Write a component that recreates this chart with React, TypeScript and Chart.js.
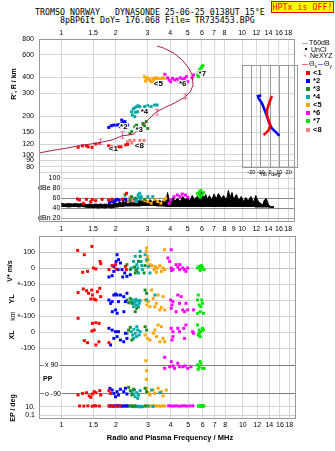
import React, { useEffect, useRef } from 'react';
import { Chart, registerables } from 'chart.js';

Chart.register(...registerables);

type Pt = [number, number];

// ---------- axes / ticks ----------
const FREQ_MIN = 0.753;
const FREQ_MAX = 19.63;
const topFreqTicks = [1, 1.5, 2, 3, 4, 5, 6, 7, 8, 10, 12, 14, 16, 18];
const midFreqTicks = [1, 1.5, 2, 3, 4, 5, 6, 7, 8, 9, 10, 12, 14, 16, 18];
const lowFreqTicks = [1, 1.5, 2, 3, 4, 5, 6, 7, 8, 10, 12, 14, 16, 18];
const heightTicks = [80, 90, 100, 120, 150, 200, 300, 400, 600, 800];
const ampTicks = [100, 80, 60, 40, 20];
const ampTickLabels = ['100', 'dBe 80', '60', '40', 'dBn 20'];
const vTicks = [0, 100];
const vTickLabels = ['0', '100'];
const ylTicks = [100, 0];
const ylTickLabels = ['+-100', '0'];
const xlTicks = [100, 0, -100];
const xlTickLabels = ['+-100', '0', '-100'];
const ppTicks = [90, -90];
const ppTickLabels = ['x 90', 'o -90'];
const epTicks = [10, 0.1];
const epTickLabels = ['10.', '0.1'];
const tiltTicks = [-20, -10, 0, 10, 20];

// ---------- clusters ----------
const clusterNames = ['<1', '*2', '*3', '*4', '<5', '*6', '*7', '<8'];
const clusterColors = ['#ff0000', '#0000ff', '#208a20', '#00a8a8', '#ffa500', '#ff00ff', '#00e600', '#f08080'];

// ionogram echoes (MHz, km)
const ion1: Pt[] = [[1.24, 114], [1.31, 117], [1.38, 117], [1.41, 115], [1.48, 114], [1.55, 121], [1.63, 122], [1.83, 117], [1.91, 115], [2.0, 115], [2.07, 115], [2.14, 115], [2.27, 119], [2.33, 120]];
const ion2: Pt[] = [[1.83, 163], [1.89, 168], [1.95, 170], [2.03, 170], [2.09, 172], [2.16, 174], [2.2, 179], [2.27, 168], [2.33, 170], [2.12, 165], [2.16, 186], [2.25, 181]];
const ion3: Pt[] = [[2.55, 165], [2.61, 170], [2.66, 160], [2.72, 155], [2.83, 175], [2.89, 168], [2.95, 181], [2.45, 151], [2.4, 146], [2.77, 155], [3.01, 160]];
const ion4: Pt[] = [[2.45, 216], [2.47, 204], [2.5, 227], [2.55, 232], [2.61, 237], [2.66, 241], [2.72, 237], [2.77, 223], [2.89, 237], [3.01, 241], [3.14, 237], [3.28, 244], [3.39, 244], [2.57, 214], [2.64, 216], [2.55, 198]];
const ion5: Pt[] = [[2.89, 406], [2.95, 394], [3.01, 398], [3.08, 383], [3.14, 371], [3.21, 394], [3.28, 389], [3.34, 398], [3.41, 394], [3.49, 383], [3.56, 389], [3.64, 398], [3.71, 394], [2.93, 375], [3.21, 371]];
const ion6: Pt[] = [[3.74, 424], [3.87, 398], [3.95, 383], [4.03, 371], [4.12, 394], [4.24, 383], [4.38, 389], [4.48, 371], [4.57, 398], [4.67, 383], [4.8, 394], [4.92, 406], [5.01, 371], [5.29, 398], [5.4, 419]];
const ion7: Pt[] = [[5.68, 419], [5.75, 440], [5.82, 458], [5.92, 472], [5.99, 486], [6.07, 495], [5.75, 406], [5.87, 432]];
const ion8: Pt[] = [[2.32, 126], [2.4, 129], [2.53, 129], [2.72, 129], [2.87, 129], [2.45, 124]];

const labelF = [1.83, 2.116, 2.572, 2.75, 3.25, 4.48, 5.75, 2.55];
const labelH = [110.5, 165, 155, 214, 360, 360, 424, 117];

// true-height profile
const profF = [0.756, 0.9, 1.06, 1.28, 1.55, 1.91, 2.16, 2.5, 2.77, 3.01, 3.34, 3.71, 4.21, 4.86, 5.18, 5.36, 5.29, 5.08, 4.67, 4.21, 3.71, 3.39];
const profH = [103, 108, 112, 118, 122.5, 130, 140, 144, 165, 186, 214, 232, 252, 283, 310, 350, 419, 472, 548, 618, 677, 705];
const errF = [1.65, 2.18, 3.39, 4.86];
const errLo = [120, 134, 204, 272];
const errHi = [132, 151, 225, 298];

// amplitude (MHz, dB)
const amp1: Pt[] = [[1.23, 57], [1.26, 55], [1.326, 48.4], [1.377, 56.4], [1.455, 51.6], [1.484, 56], [1.549, 53.6], [1.682, 56.4], [1.829, 55], [1.905, 56.4], [2.178, 56.4], [2.298, 68.4]];
const amp2: Pt[] = [[1.845, 49.6], [1.905, 51.6], [1.95, 52], [1.971, 53.6], [2.0, 54], [2.028, 56.4], [2.09, 55], [2.206, 56.4], [2.27, 56.4]];
const amp3: Pt[] = [[2.253, 65], [2.398, 55], [2.447, 61.6], [2.572, 58.4], [2.893, 56.4]];
const amp4: Pt[] = [[2.553, 58.4], [2.604, 51.6], [2.62, 55], [2.66, 65], [2.69, 60], [2.717, 68.4], [2.75, 57], [2.772, 61.6], [3.014, 61.6], [3.208, 61.6]];
const amp5: Pt[] = [[2.893, 53.6], [3.014, 51.6], [3.141, 48.4], [3.277, 56.4], [3.415, 51.6], [3.558, 48.4], [3.712, 55], [3.787, 58.4]];
const amp6: Pt[] = [[3.952, 48.4], [4.031, 55], [4.207, 61.6], [4.385, 65], [4.535, 61.6], [4.667, 67], [4.863, 65], [5.012, 60.4]];
const amp7: Pt[] = [[5.678, 68.4], [5.75, 66], [5.821, 71.6], [5.865, 60.4], [5.92, 74], [5.99, 65], [6.12, 69.6]];
const amp8: Pt[] = [[2.348, 51.6], [2.398, 60.4], [2.447, 55], [2.5, 53]];

// noise band [MHz, low dB, high dB]
const noise: [number, number, number][] = [
  [1.0, 42, 48], [1.05, 42, 47], [1.1, 41, 48], [1.15, 42, 47], [1.2, 42, 48], [1.25, 41, 47], [1.3, 42, 48], [1.35, 41, 47],
  [1.4, 40, 46], [1.45, 40, 47], [1.5, 40, 46], [1.55, 40, 47], [1.6, 39, 46], [1.65, 40, 47], [1.7, 40, 46], [1.75, 39, 47],
  [1.8, 40, 46], [1.85, 40, 47], [1.9, 39, 46], [1.95, 40, 48], [2.0, 41, 50], [2.05, 41, 47], [2.1, 42, 52], [2.15, 42, 48],
  [2.2, 42, 54], [2.25, 43, 49], [2.3, 43, 56], [2.35, 43, 50], [2.4, 43, 55], [2.45, 43, 48], [2.5, 43, 57], [2.55, 43, 50],
  [2.6, 43, 58], [2.65, 43, 50], [2.7, 43, 55], [2.8, 44, 52], [2.9, 44, 58], [3.0, 44, 51], [3.1, 44, 56], [3.2, 44, 50],
  [3.3, 44, 57], [3.4, 43, 52], [3.5, 43, 55], [3.6, 43, 50], [3.7, 43, 57], [3.8, 42, 52], [3.87, 42, 70], [3.95, 42, 55],
  [4.05, 42, 52], [4.15, 42, 60], [4.25, 42, 53], [4.4, 42, 58], [4.55, 42, 52], [4.7, 42, 62], [4.85, 42, 55], [5.0, 42, 60],
  [5.15, 42, 53], [5.3, 42, 64], [5.45, 42, 56], [5.63, 42, 62], [5.8, 42, 58], [5.99, 42, 72], [6.15, 42, 58], [6.3, 42, 66],
  [6.45, 42, 56], [6.6, 42, 64], [6.8, 42, 55], [7.0, 42, 67], [7.2, 42, 57], [7.4, 42, 68], [7.7, 42, 58], [7.9, 42, 64],
  [8.2, 42, 55], [8.4, 42, 74], [8.6, 42, 60], [8.8, 42, 70], [9.0, 42, 56], [9.3, 42, 66], [9.6, 42, 54], [9.9, 42, 62],
  [10.2, 42, 52], [10.5, 42, 60], [10.8, 42, 53], [11.2, 42, 62], [11.6, 42, 50], [11.9, 41, 64], [12.3, 41, 52], [12.7, 41, 48],
  [13.0, 41, 45], [13.3, 41, 55], [13.6, 41, 58], [14.0, 41, 46], [14.4, 40, 42], [15.0, 40, 42],
];

// lower panel: V* (m/s)
const vs1: Pt[] = [[1.23, 110], [1.338, 83], [1.473, 135], [1.31, -27], [1.394, -21], [1.503, 0], [1.549, -6], [1.648, 27], [1.634, 41], [1.829, -10], [1.905, 15], [1.988, 21], [2.003, -6], [2.253, 10], [2.281, -10]];
const vs2: Pt[] = [[1.905, -48], [1.829, -56], [1.946, 10], [2.028, 83], [2.064, 52], [2.003, 41], [2.116, 31], [2.159, -10], [2.234, -31], [2.298, -52], [2.178, -56], [2.398, -42], [1.946, -21], [2.054, -10]];
const vs3: Pt[] = [[2.298, 21], [2.398, -10], [2.53, 6], [2.553, -31], [2.66, 41], [2.717, 73], [2.856, -31], [2.893, 15], [2.604, -17]];
const vs4: Pt[] = [[2.499, 41], [2.553, 73], [2.604, 21], [2.637, 0], [2.717, 104], [2.751, 41], [2.796, -10], [2.893, 83], [2.951, 52], [3.014, 10], [3.078, -31], [2.66, -31], [2.572, -10], [2.428, 0], [2.772, 15]];
const vs5: Pt[] = [[2.951, 125], [2.94, 104], [2.988, 73], [3.014, 52], [2.96, 41], [3.078, 21], [3.141, 15], [3.277, 10], [3.386, 0], [3.488, 15], [3.634, 0], [3.712, -10], [3.558, -21], [3.343, -27], [3.7, 114], [3.25, -10]];
const vs6: Pt[] = [[3.868, 62], [3.952, 41], [4.031, 0], [4.118, -10], [4.292, 21], [4.385, 6], [4.479, -10], [4.667, 0], [4.767, -10], [4.967, 0], [4.05, -15], [4.5, 21], [4.863, -21], [4.03, 114]];
const vs7: Pt[] = [[5.628, 0], [5.749, 10], [5.865, -6], [5.99, 4], [6.12, -10], [5.821, -15], [5.916, 15]];

// YL (km)
const yl1: Pt[] = [[1.236, 46], [1.321, 69], [1.377, 58], [1.412, 42], [1.484, 31], [1.516, 6], [1.549, 0], [1.58, 52], [1.628, 73], [1.648, 21], [1.47, 62], [1.455, 6]];
const yl2: Pt[] = [[1.829, 0], [1.905, -10], [1.946, 31], [1.988, 37], [2.028, 31], [2.064, -10], [2.116, 31], [2.206, 21], [2.253, -10], [2.298, 42], [1.91, -73], [1.99, -62], [2.03, -83], [2.21, -73], [1.868, -21]];
const yl3: Pt[] = [[2.298, 0], [2.348, -17], [2.398, 10], [2.447, -21], [2.893, 62], [2.951, 42], [2.553, -73], [2.604, -52]];
const yl4: Pt[] = [[2.428, -10], [2.469, 0], [2.509, -21], [2.553, -10], [2.594, -31], [2.637, -4], [2.684, -21], [2.499, -42], [2.572, 4], [2.66, -42], [2.717, -4], [2.951, 0], [3.277, 31]];
const yl5: Pt[] = [[2.893, 0], [2.96, -31], [3.014, -10], [3.078, -42], [3.208, 10], [3.343, -21], [3.488, -62], [3.558, -46], [3.415, 31], [3.634, 21], [3.712, -62], [3.277, -42], [3.141, 62]];
const yl6: Pt[] = [[4.002, 0], [4.068, -31], [4.118, -10], [4.031, -52], [4.479, -21], [4.569, 21], [4.667, -62], [4.767, -73], [4.863, -21], [4.967, -62], [5.354, -62], [4.385, 31], [4.292, -73]];
const yl7: Pt[] = [[5.628, 0], [5.749, -31], [5.865, -42], [5.99, -21], [5.678, 31], [5.937, 0], [6.067, -83], [5.821, -73], [5.62, -83]];

// XL (km)
const xl1: Pt[] = [[1.236, 86], [1.484, 54], [1.516, 12], [1.549, 58], [1.614, 54], [1.473, 6], [1.338, -54], [1.394, -67], [1.55, -81], [1.61, -61], [1.829, -67]];
const xl2: Pt[] = [[1.829, 23], [1.905, 12], [1.988, 2], [2.028, -29], [2.116, -50], [2.206, -61], [2.253, -8], [2.064, 2], [2.298, -40], [1.868, -81], [1.946, -40]];
const xl3: Pt[] = [[2.298, -8], [2.348, 12], [2.398, 29], [2.893, 33], [2.951, 12], [2.447, -50]];
const xl4: Pt[] = [[2.428, 2], [2.469, -19], [2.509, 17], [2.553, -8], [2.594, -29], [2.637, 12], [2.684, -19], [2.499, -40], [2.604, 33], [2.717, 2]];
const xl5: Pt[] = [[2.893, -19], [2.988, -40], [3.078, -50], [3.208, -8], [3.343, -29], [3.488, -61], [3.634, -40], [3.558, 33], [3.277, 12], [3.712, -61], [3.415, 44]];
const xl6: Pt[] = [[4.031, 23], [4.118, 2], [4.068, -50], [4.385, 23], [4.479, 2], [4.726, 23], [4.767, -40], [4.863, 44], [5.288, 2], [5.354, -8], [4.12, -29]];
const xl7: Pt[] = [[5.628, 44], [5.749, 12], [5.865, 2], [5.99, 23], [5.678, -19], [5.821, -29], [6.067, 12], [5.75, -8]];

// PP (deg)
const pp1: Pt[] = [[1.236, -98], [1.31, -88], [1.377, -84], [1.424, -104], [1.484, -92], [1.516, -77], [1.549, -84], [1.628, -71], [1.648, -98], [1.829, -71], [1.868, -88], [1.455, -113]];
const pp2: Pt[] = [[1.851, -56], [1.905, -67], [1.946, -88], [1.988, -109], [2.028, -77], [2.064, -98], [2.116, -62], [2.206, -77], [2.253, -56], [2.298, -92]];
const pp3: Pt[] = [[2.348, -50], [2.398, -71], [2.447, -98], [2.499, -62], [2.893, -56], [2.951, -77]];
const pp4: Pt[] = [[2.447, -77], [2.499, -92], [2.553, -109], [2.604, -84], [2.66, -98], [2.717, -71], [2.53, -67], [2.637, -119], [3.141, -67], [3.488, -84]];
const pp5: Pt[] = [[2.92, 117], [2.95, 54], [2.94, 0], [2.951, -56], [3.014, -84], [3.078, -98], [3.208, -67], [3.277, -88], [3.415, -56], [3.558, -77], [3.634, -104], [3.787, -67]];
const pp6: Pt[] = [[4.031, 111], [4.118, 84], [4.385, 101], [4.479, 79], [4.667, 79], [4.803, 84], [4.967, 69], [3.952, 79], [5.176, 79], [4.207, 69], [3.712, 138], [3.71, 69]];
const pp7: Pt[] = [[5.628, 90], [5.749, 79], [5.865, 101], [5.678, 63], [5.99, 69], [6.12, 69], [5.821, 111]];

// EP (deg)
const ep1: Pt[] = [[1.26, 15], [1.33, 14], [1.4, 16], [1.48, 13], [1.52, 17], [1.55, 15], [1.62, 14], [1.83, 16], [1.91, 15], [2.0, 14], [2.1, 17]];
const ep2: Pt[] = [[1.84, 14], [1.88, 16], [1.93, 13], [1.97, 15], [2.02, 17], [2.06, 14], [2.1, 16], [2.15, 13], [2.2, 15], [2.25, 14], [2.3, 16]];
const ep3: Pt[] = [[2.3, 15], [2.35, 13], [2.42, 17], [2.48, 14], [2.55, 16], [2.9, 15]];
const ep4: Pt[] = [[2.45, 12], [2.5, 10], [2.55, 14], [2.6, 11], [2.65, 13], [2.7, 9], [2.75, 12], [2.8, 10], [3.0, 14], [3.2, 12]];
const ep5: Pt[] = [[2.9, 14], [2.98, 16], [3.05, 13], [3.12, 15], [3.2, 17], [3.3, 14], [3.4, 16], [3.5, 13], [3.6, 15], [3.7, 14]];
const ep6: Pt[] = [[3.9, 17], [4.0, 15], [4.15, 14], [4.3, 16], [4.45, 13], [4.6, 15], [4.75, 17], [4.9, 14], [5.1, 15], [5.3, 16]];
const ep7: Pt[] = [[5.7, 14], [5.75, 16], [5.8, 13], [5.85, 15], [5.9, 17], [5.95, 12], [6.0, 15], [6.05, 14], [6.1, 16]];

// tilt inset (deg, km)
const tiltXDeg = [2.1, 0.3, -1.5, -3.2, -3.2, -1.5, 0.3, -1.5, -4.3, -6.9];
const tiltXH = [287, 267, 244, 223, 204, 186, 170, 155, 148, 142];
const tiltYDeg = [-9.3, -12.9, -12.2, -8.6, -5.8, -3.2, -0.8, 2.1, 4.9, 7.5, 10];
const tiltYH = [290, 287, 275, 252, 223, 198, 176, 160, 153, 147, 140];

// ---------- helpers ----------
const FONT = 'Liberation Sans, Arial, sans-serif';
const tickFont = { family: FONT, size: 7 };
const toXY = (d: Pt[]) => d.map(([x, y]) => ({ x, y }));
const setTicks = (vals: number[]) => (s: any) => { s.ticks = vals.map((v) => ({ value: v })); };
const labelFrom = (vals: number[], labels: string[]) => (v: any) => {
  const i = vals.indexOf(Number(v));
  return i >= 0 ? labels[i] : '';
};
const pts = (d: Pt[], color: string, yAxisID: string) => ({
  data: toXY(d), xAxisID: 'x', yAxisID, showLine: false,
  backgroundColor: color, borderColor: color,
  pointStyle: 'rect', pointRadius: 2.1, pointBorderWidth: 0, order: 1,
});

const framePlugin = {
  id: 'frame',
  afterDraw(chart: any) {
    const { ctx, chartArea: a } = chart;
    ctx.save();
    ctx.strokeStyle = '#999';
    ctx.lineWidth = 1;
    ctx.strokeRect(Math.round(a.left) + 0.5, Math.round(a.top) + 0.5, Math.round(a.right - a.left) - 1, Math.round(a.bottom - a.top) - 1);
    ctx.restore();
  },
};

const ampLineColors = ['#cfcfcf', '#cfcfcf', '#8a8a8a', '#8a8a8a', '#a8a8a8'];
const ampGridPlugin = {
  id: 'ampGrid',
  beforeDatasetsDraw(chart: any) {
    const { ctx, chartArea: a } = chart;
    const xs = chart.scales.x;
    const ya = chart.scales.yA;
    ctx.save();
    ctx.lineWidth = 1;
    ctx.strokeStyle = '#cfcfcf';
    const yb = Math.round(ya.top) + 0.5;
    ctx.beginPath(); ctx.moveTo(a.left, yb); ctx.lineTo(a.right, yb); ctx.stroke();
    const x0 = xs.getPixelForValue(1);
    ctx.font = `7px ${FONT}`;
    ctx.fillStyle = '#000';
    ctx.textAlign = 'right';
    ctx.textBaseline = 'middle';
    ampTicks.forEach((v, i) => {
      const y = Math.round(ya.getPixelForValue(v)) + 0.5;
      ctx.strokeStyle = ampLineColors[i];
      ctx.beginPath(); ctx.moveTo(x0, y); ctx.lineTo(a.right, y); ctx.stroke();
      ctx.fillText(ampTickLabels[i], x0 - 1, y);
    });
    ctx.restore();
  },
};

const clusterLabelPlugin = {
  id: 'clusterLabels',
  afterDatasetsDraw(chart: any) {
    const { ctx } = chart;
    const xs = chart.scales.x;
    const ys = chart.scales.y;
    ctx.save();
    ctx.font = `bold 8px ${FONT}`;
    ctx.textAlign = 'left';
    ctx.textBaseline = 'middle';
    clusterNames.forEach((n, i) => {
      const px = xs.getPixelForValue(labelF[i]);
      const py = ys.getPixelForValue(labelH[i]);
      ctx.lineWidth = 2;
      ctx.strokeStyle = '#fff';
      ctx.strokeText(n, px, py);
      ctx.fillStyle = '#000';
      ctx.fillText(n, px, py);
    });
    ctx.restore();
  },
};

const yFit = (s: any) => { s.width = 39; };

export default function App() {
  const topRef = useRef<HTMLCanvasElement>(null);
  const lowRef = useRef<HTMLCanvasElement>(null);
  const insetRef = useRef<HTMLCanvasElement>(null);

  useEffect(() => {
    const charts: Chart[] = [];
    const ionSets = [ion1, ion2, ion3, ion4, ion5, ion6, ion7, ion8];
    const ampSets = [amp1, amp2, amp3, amp4, amp5, amp6, amp7, amp8];

    const topDatasets: any[] = [];
    ionSets.forEach((d, i) => topDatasets.push(pts(d, clusterColors[i], 'y')));
    topDatasets.push({
      data: profF.map((f, i) => ({ x: f, y: profH[i] })), xAxisID: 'x', yAxisID: 'y',
      showLine: true, borderColor: '#a8204c', borderWidth: 1, pointRadius: 0, order: 0,
    });
    errF.forEach((f, i) => topDatasets.push({
      data: [{ x: f, y: errLo[i] }, { x: f, y: errHi[i] }], xAxisID: 'x', yAxisID: 'y',
      showLine: true, borderColor: '#e8709a', borderWidth: 1, pointStyle: 'line', pointRadius: 2,
      pointBorderWidth: 1, pointBorderColor: '#e8709a', order: 0,
    }));
    ampSets.forEach((d, i) => topDatasets.push(pts(d, clusterColors[i], 'yA')));
    topDatasets.push({
      data: noise.map(([f, lo]) => ({ x: f, y: lo })), xAxisID: 'x', yAxisID: 'yA',
      showLine: true, borderColor: '#000', borderWidth: 1, pointRadius: 0, order: 5,
    });
    topDatasets.push({
      data: noise.map(([f, , hi]) => ({ x: f, y: hi })), xAxisID: 'x', yAxisID: 'yA',
      showLine: true, borderColor: '#000', borderWidth: 1, pointRadius: 0, order: 5,
      fill: '-1', backgroundColor: '#000',
    });

    const xTickOpts = { autoSkip: false, maxRotation: 0, font: tickFont, color: '#000', callback: (v: any) => String(v) };

    charts.push(new Chart(topRef.current!, {
      type: 'scatter',
      data: { datasets: topDatasets },
      options: {
        responsive: false, animation: false, events: [],
        layout: { padding: 0 },
        plugins: { legend: { display: false }, tooltip: { enabled: false } },
        scales: {
          x: {
            type: 'logarithmic', position: 'top', min: FREQ_MIN, max: FREQ_MAX,
            afterBuildTicks: setTicks(topFreqTicks), afterFit: (s: any) => { s.height = 39; },
            ticks: { ...xTickOpts, padding: 2 },
            grid: { color: '#dadada', drawTicks: false }, border: { display: false },
          },
          x2: {
            type: 'logarithmic', position: 'bottom', min: FREQ_MIN, max: FREQ_MAX,
            afterBuildTicks: setTicks(midFreqTicks), afterFit: (s: any) => { s.height = 18; },
            ticks: { ...xTickOpts, padding: 3 },
            grid: { display: false, drawTicks: false }, border: { display: false },
          },
          yA: {
            type: 'linear', position: 'left', stack: 'top', stackWeight: 50, min: 11, max: 111,
            ticks: { display: false }, grid: { display: false, drawTicks: false }, border: { display: false }, afterFit: yFit,
          },
          y: {
            type: 'logarithmic', position: 'left', stack: 'top', stackWeight: 133, min: 73.1, max: 800,
            afterBuildTicks: setTicks(heightTicks), afterFit: yFit,
            ticks: { autoSkip: false, font: tickFont, color: '#000', padding: 5, callback: (v: any) => String(v) },
            grid: { color: '#d4d4d4', drawTicks: false }, border: { display: false },
          },
        },
      } as any,
      plugins: [ampGridPlugin, clusterLabelPlugin, framePlugin],
    }));

    // lower panel
    const groups: [Pt[][], string][] = [
      [[vs1, vs2, vs3, vs4, vs5, vs6, vs7], 'yV'],
      [[yl1, yl2, yl3, yl4, yl5, yl6, yl7], 'yYL'],
      [[xl1, xl2, xl3, xl4, xl5, xl6, xl7], 'yXL'],
      [[pp1, pp2, pp3, pp4, pp5, pp6, pp7], 'yPP'],
      [[ep1, ep2, ep3, ep4, ep5, ep6, ep7], 'yEP'],
    ];
    const lowDatasets: any[] = [];
    groups.forEach(([sets, axis]) => sets.forEach((d, i) => lowDatasets.push(pts(d, clusterColors[i], axis))));

    const yTick = (vals: number[], labels: string[], extra: any = {}) => ({
      autoSkip: false, font: tickFont, color: '#000', padding: 4,
      callback: labelFrom(vals, labels), ...extra,
    });
    const yBase = { position: 'left', stack: 'low', afterFit: yFit, border: { display: false } };

    charts.push(new Chart(lowRef.current!, {
      type: 'scatter',
      data: { datasets: lowDatasets },
      options: {
        responsive: false, animation: false, events: [],
        layout: { padding: { top: 12, left: 0, right: 0, bottom: 0 } },
        plugins: { legend: { display: false }, tooltip: { enabled: false } },
        scales: {
          x: {
            type: 'logarithmic', position: 'bottom', min: FREQ_MIN, max: FREQ_MAX,
            afterBuildTicks: setTicks(lowFreqTicks), afterFit: (s: any) => { s.height = 32; },
            ticks: { ...xTickOpts, padding: 2 },
            grid: { color: '#dadada', drawTicks: false }, border: { display: false },
          },
          yEP: {
            ...yBase, type: 'logarithmic', stackWeight: 19, min: 0.01377, max: 361,
            afterBuildTicks: setTicks(epTicks), ticks: yTick(epTicks, epTickLabels),
            grid: { color: '#d4d4d4', drawTicks: false },
          },
          yPP: {
            ...yBase, type: 'linear', stackWeight: 48, min: -129.5, max: 171.6,
            afterBuildTicks: setTicks(ppTicks),
            ticks: yTick(ppTicks, ppTickLabels, { mirror: true, padding: 6, showLabelBackdrop: true, backdropColor: '#fff', backdropPadding: 1 }),
            grid: { color: '#808080', drawTicks: false },
          },
          yXL: {
            ...yBase, type: 'linear', stackWeight: 36, min: -125, max: 100,
            afterBuildTicks: setTicks(xlTicks), ticks: yTick(xlTicks, xlTickLabels),
            grid: { color: '#d4d4d4', drawTicks: false },
          },
          yYL: {
            ...yBase, type: 'linear', stackWeight: 32, min: -100, max: 100,
            afterBuildTicks: setTicks(ylTicks), ticks: yTick(ylTicks, ylTickLabels),
            grid: { color: '#d4d4d4', drawTicks: false },
          },
          yV: {
            ...yBase, type: 'linear', stackWeight: 48, min: -100, max: 200,
            afterBuildTicks: setTicks(vTicks), ticks: yTick(vTicks, vTickLabels),
            grid: { color: '#c4c4c4', drawTicks: false },
          },
        },
      } as any,
      plugins: [framePlugin],
    }));

    // tilt inset
    charts.push(new Chart(insetRef.current!, {
      type: 'scatter',
      data: {
        datasets: [
          { data: tiltXDeg.map((t, i) => ({ x: t, y: tiltXH[i] })), showLine: true, borderColor: '#ff0000', borderWidth: 2.5, pointRadius: 0 },
          { data: tiltYDeg.map((t, i) => ({ x: t, y: tiltYH[i] })), showLine: true, borderColor: '#0000ff', borderWidth: 2.5, pointRadius: 0 },
        ],
      },
      options: {
        responsive: false, animation: false, events: [],
        layout: { padding: 0 },
        plugins: { legend: { display: false }, tooltip: { enabled: false } },
        scales: {
          x: {
            type: 'linear', position: 'bottom', min: -30, max: 30,
            afterBuildTicks: setTicks(tiltTicks), afterFit: (s: any) => { s.height = 15; },
            ticks: { autoSkip: false, maxRotation: 0, font: { family: FONT, size: 5.5 }, color: '#000', padding: 1, callback: (v: any) => String(v) },
            grid: { color: '#9a9a9a', drawTicks: false }, border: { display: false },
          },
          y: { type: 'logarithmic', min: 78.6, max: 501, display: false },
        },
      } as any,
      plugins: [framePlugin],
    }));

    return () => charts.forEach((c) => c.destroy());
  }, []);

  const abs: React.CSSProperties = { position: 'absolute', whiteSpace: 'pre', margin: 0 };
  const mono = 'DejaVu Sans Mono, Liberation Mono, monospace';
  const rot = (left: number, top: number, text: string, size = 7, bold = true) => (
    <div style={{ ...abs, left, top, fontFamily: FONT, fontSize: size, fontWeight: bold ? 'bold' : 'normal', lineHeight: 1, transform: 'translate(-50%,-50%) rotate(-90deg)' }}>{text}</div>
  );
  const legendRowsTop = [73.3, 81, 89, 97, 104.5, 112.5, 121, 129.5];

  return (
    <div style={{ position: 'absolute', left: 0, top: 0, width: 335, height: 451, background: '#fff', overflow: 'hidden', fontFamily: FONT }}>
      <div style={{ ...abs, left: 35, top: 7, fontFamily: mono, fontSize: 8.3, lineHeight: '10px', color: '#000' }}>TROMSO NORWAY   DYNASONDE 25-06-25 0138UT 15°E</div>
      <div style={{ ...abs, left: 60, top: 14.5, fontFamily: mono, fontSize: 8.3, lineHeight: '10px', color: '#000' }}>8pBP6It DoY= 176.068 File= TR735453.BPG</div>
      <div style={{ ...abs, left: 271, top: 1, width: 61, height: 10, background: '#ffff00', border: '1px solid #ff0000', color: '#ff0000', fontFamily: mono, fontSize: 8.3, lineHeight: '10px', textAlign: 'center' }}>HPTx is OFF!</div>

      <canvas ref={topRef} width={300} height={240} style={{ position: 'absolute', left: 0, top: 0, width: 300, height: 240 }} />
      <canvas ref={lowRef} width={300} height={227} style={{ position: 'absolute', left: 0, top: 224, width: 300, height: 227 }} />
      <canvas ref={insetRef} width={56} height={118} style={{ position: 'absolute', left: 242, top: 65, width: 56, height: 118 }} />
      <div style={{ ...abs, left: 270, top: 175, transform: 'translate(-50%,-50%)', fontSize: 5.5, lineHeight: 1 }}>Tilt / deg</div>

      {rot(12.5, 84, "R', R / km")}
      {rot(9, 271, 'V* m/s', 7)}
      {rot(11, 299, 'YL', 7)}
      {rot(12, 316, 'km', 7, false)}
      {rot(11, 335, 'XL', 7)}
      {rot(12, 408, 'EP / deg', 7)}
      <div style={{ ...abs, left: 43, top: 375, fontSize: 7, fontWeight: 'bold', lineHeight: '8px' }}>PP</div>
      <div style={{ ...abs, left: 170, top: 438, transform: 'translate(-50%,-50%)', fontSize: 7.5, fontWeight: 'bold', lineHeight: 1 }}>Radio and Plasma Frequency / MHz</div>

      {/* legend */}
      <div style={{ ...abs, left: 302, top: 42.5, width: 6, height: 1, background: '#aaa' }} />
      <div style={{ ...abs, left: 309, top: 39, fontSize: 7, lineHeight: '8px' }}>T60dB</div>
      <div style={{ ...abs, left: 305, top: 48, width: 1.5, height: 1.5, background: '#000' }} />
      <div style={{ ...abs, left: 311, top: 45.5, fontSize: 7, lineHeight: '8px' }}>UnCl</div>
      <div style={{ ...abs, left: 303, top: 52, fontSize: 7, lineHeight: '8px', color: '#e8709a' }}>+</div>
      <div style={{ ...abs, left: 310, top: 52, fontSize: 7, lineHeight: '8px' }}>NeXYZ</div>
      <div style={{ ...abs, left: 302, top: 63.5, width: 6, height: 1, background: '#ff7070' }} />
      <div style={{ ...abs, left: 309, top: 59.5, fontSize: 7, lineHeight: '8px' }}>Θ<sub style={{ fontSize: 5 }}>x</sub></div>
      <div style={{ ...abs, left: 318, top: 63.5, width: 5, height: 1, background: '#7070ff' }} />
      <div style={{ ...abs, left: 324, top: 59.5, fontSize: 7, lineHeight: '8px' }}>Θ<sub style={{ fontSize: 5 }}>y</sub></div>
      {clusterNames.map((n, i) => (
        <React.Fragment key={n}>
          <div style={{ ...abs, left: 306, top: legendRowsTop[i] - 2, width: 4, height: 4, background: clusterColors[i] }} />
          <div style={{ ...abs, left: 313, top: legendRowsTop[i] - 4, fontSize: 7.5, fontWeight: 'bold', lineHeight: '8px' }}>{n}</div>
        </React.Fragment>
      ))}
    </div>
  );
}
